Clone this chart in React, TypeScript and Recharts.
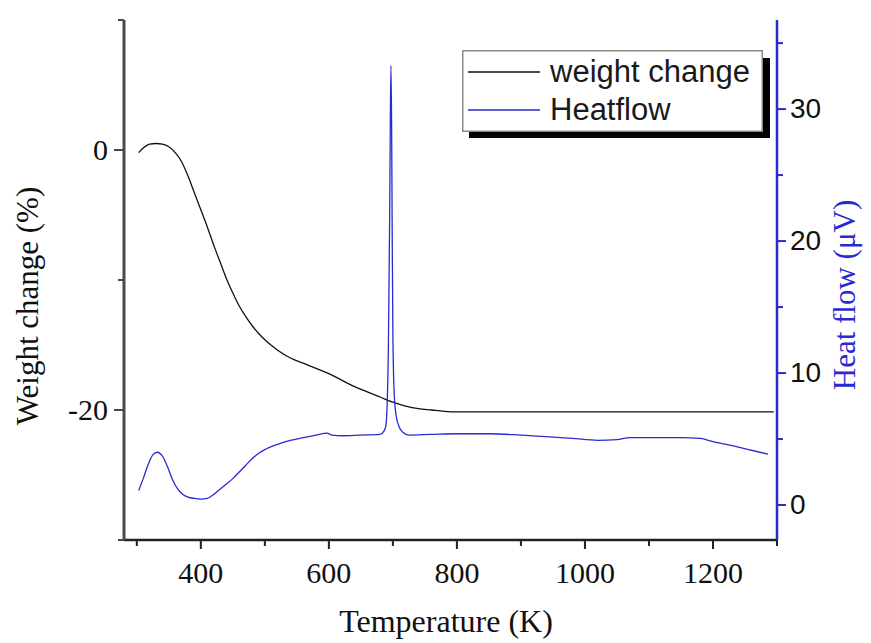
import React from 'react';
import { LineChart, Line, XAxis, YAxis, Legend, Label } from 'recharts';

// Weight change (%) vs temperature (K)
const weightT = [303, 310, 320, 330, 340, 350, 360, 370, 380, 390, 400, 410, 420, 430, 440, 450, 460, 470, 480, 490, 500, 520, 540, 560, 580, 600, 620, 640, 660, 680, 700, 720, 740, 760, 780, 800, 900, 1000, 1100, 1200, 1295];
const weightV = [-0.2, 0.15, 0.45, 0.5, 0.45, 0.25, -0.2, -0.9, -2.0, -3.3, -4.6, -5.9, -7.3, -8.6, -9.9, -11.0, -12.0, -12.8, -13.5, -14.1, -14.6, -15.4, -16.0, -16.4, -16.8, -17.2, -17.7, -18.2, -18.6, -19.0, -19.4, -19.7, -19.9, -20.0, -20.1, -20.15, -20.15, -20.15, -20.15, -20.15, -20.15];

// Heat flow (µV) vs temperature (K)
const heatT = [303, 310, 318, 325, 332, 340, 348, 356, 364, 372, 380, 390, 400, 410, 420, 430, 440, 450, 460, 470, 480, 490, 500, 520, 540, 560, 580, 597, 605, 620, 650, 680, 686, 689, 691, 693, 695, 696, 697, 698, 699, 700, 702, 705, 710, 716, 725, 760, 800, 850, 900, 950, 980, 1020, 1050, 1070, 1100, 1150, 1180, 1200, 1230, 1260, 1286];
const heatV = [1.1, 2.0, 3.1, 3.8, 4.0, 3.7, 2.9, 1.9, 1.2, 0.8, 0.6, 0.5, 0.45, 0.5, 0.8, 1.2, 1.6, 2.0, 2.5, 3.0, 3.5, 3.9, 4.2, 4.6, 4.9, 5.1, 5.3, 5.45, 5.3, 5.25, 5.3, 5.35, 5.6, 6.0, 7.5, 12, 22, 29, 33.3, 29, 20, 13, 8.5, 6.8, 5.9, 5.5, 5.3, 5.35, 5.4, 5.4, 5.3, 5.15, 5.05, 4.9, 4.95, 5.1, 5.1, 5.1, 5.05, 4.8, 4.5, 4.15, 3.85];

const seriesNames = ['weight change', 'Heatflow'];
const xTicks = [300, 400, 500, 600, 700, 800, 900, 1000, 1100, 1200, 1300];
const xMajor = [400, 600, 800, 1000, 1200];
const leftTicks = [-30, -20, -10, 0, 10];
const leftMajor = [-20, 0];
const rightTicks = [0, 5, 10, 15, 20, 25, 30, 35];
const rightMajor = [0, 10, 20, 30];

const weightData = weightT.map((t, i) => ({ T: t, w: weightV[i] }));
const heatData = heatT.map((t, i) => ({ T: t, h: heatV[i] }));

const SERIF = '"Liberation Serif", "Times New Roman", serif';
const SANS = '"Liberation Sans", Arial, sans-serif';
const AXIS_GRAY = '#4a4a4a';
const BLUE = '#2a2ad2';

const BottomTick = (p: any) => {
  const { x, y, payload } = p;
  const major = xMajor.includes(payload.value);
  return (
    <g>
      <line x1={x} x2={x} y1={y} y2={y + (major ? 9 : 6)} stroke="#222" strokeWidth={2} />
      {major && (
        <text x={x} y={y + 43} textAnchor="middle" fontFamily={SERIF} fontSize={30} fill="#111">
          {payload.value}
        </text>
      )}
    </g>
  );
};

const TopTick = (p: any) => {
  const { x, y, payload } = p;
  const major = xMajor.includes(payload.value);
  return <line x1={x} x2={x} y1={y} y2={y + (major ? 10 : 6)} stroke={AXIS_GRAY} strokeWidth={2} />;
};

const LeftTick = (p: any) => {
  const { x, y, payload } = p;
  const major = leftMajor.includes(payload.value);
  return (
    <g>
      <line x1={x} x2={x - (major ? 10 : 6)} y1={y} y2={y} stroke={AXIS_GRAY} strokeWidth={2} />
      {major && (
        <text x={x - 16} y={y + 10} textAnchor="end" fontFamily={SERIF} fontSize={30} fill="#111">
          {payload.value}
        </text>
      )}
    </g>
  );
};

const RightTick = (p: any) => {
  const { x, y, payload } = p;
  const major = rightMajor.includes(payload.value);
  return (
    <g>
      <line x1={x} x2={x + (major ? 9 : 6)} y1={y} y2={y} stroke={BLUE} strokeWidth={2} />
      {major && (
        <text x={x + 13} y={y + 9} textAnchor="start" fontFamily={SANS} fontSize={28} fill="#111">
          {payload.value}
        </text>
      )}
    </g>
  );
};

const renderLegend = (props: any) => {
  const payload = [...(props.payload || [])].sort(
    (a: any, b: any) => seriesNames.indexOf(a.value) - seriesNames.indexOf(b.value)
  );
  return (
    <svg width={312} height={92} style={{ display: 'block' }}>
      <rect x={7} y={81} width={301} height={7} fill="#000" />
      <rect x={300} y={8} width={8} height={80} fill="#000" />
      <rect x={0.75} y={0.75} width={299.5} height={80.5} fill="#fff" stroke="#8a8a8a" strokeWidth={1.5} />
      {payload.map((e: any, i: number) => (
        <g key={i}>
          <line x1={6} x2={78} y1={22 + i * 38} y2={22 + i * 38} stroke={e.color} strokeWidth={1.3} />
          <text x={88} y={32 + i * 38} fontFamily={SANS} fontSize={31} fill="#1a1a1a">
            {e.value}
          </text>
        </g>
      ))}
    </svg>
  );
};

export default function App() {
  return (
    <div style={{ position: 'absolute', left: 0, top: 0, width: 871, height: 643, background: '#fff' }}>
      <LineChart width={871} height={643} margin={{ top: 20, right: 34, bottom: 52, left: 64 }}>
        <XAxis
          xAxisId="bottom"
          dataKey="T"
          type="number"
          domain={[280, 1300]}
          ticks={xTicks}
          interval={0}
          height={51}
          tickSize={0}
          tickMargin={0}
          tick={<BottomTick />}
          axisLine={{ stroke: '#222', strokeWidth: 2.5 }}
          tickLine={false}
        >
          <Label
            content={() => (
              <text x={446} y={632} textAnchor="middle" fontFamily={SERIF} fontSize={32} fill="#111">
                Temperature (K)
              </text>
            )}
          />
        </XAxis>
        <XAxis
          xAxisId="top"
          orientation="top"
          dataKey="T"
          type="number"
          domain={[280, 1300]}
          ticks={xTicks}
          interval={0}
          height={0}
          tickSize={0}
          tickMargin={0}
          tick={<TopTick />}
          axisLine={{ stroke: AXIS_GRAY, strokeWidth: 2.5 }}
          tickLine={false}
        />
        <YAxis
          yAxisId="left"
          type="number"
          domain={[-30, 10]}
          ticks={leftTicks}
          interval={0}
          width={60}
          tickSize={0}
          tickMargin={0}
          tick={<LeftTick />}
          axisLine={{ stroke: AXIS_GRAY, strokeWidth: 3 }}
          tickLine={false}
        >
          <Label
            content={() => (
              <text
                x={38}
                y={306}
                textAnchor="middle"
                fontFamily={SERIF}
                fontSize={31}
                fill="#111"
                transform="rotate(-90, 38, 306)"
              >
                Weight change (%)
              </text>
            )}
          />
        </YAxis>
        <YAxis
          yAxisId="right"
          orientation="right"
          type="number"
          domain={[-2.65, 36.75]}
          ticks={rightTicks}
          interval={0}
          width={60}
          tickSize={0}
          tickMargin={0}
          tick={<RightTick />}
          axisLine={{ stroke: BLUE, strokeWidth: 2.5 }}
          tickLine={false}
        >
          <Label
            content={() => (
              <text
                x={855}
                y={295}
                textAnchor="middle"
                fontFamily={SERIF}
                fontSize={31}
                fill={BLUE}
                transform="rotate(-90, 855, 295)"
              >
                Heat flow (μV)
              </text>
            )}
          />
        </YAxis>
        <Legend
          layout="vertical"
          align="center"
          verticalAlign="middle"
          content={renderLegend}
          wrapperStyle={{ left: 462, top: 50, width: 312, height: 92 }}
        />
        <Line
          data={weightData}
          dataKey="w"
          name="weight change"
          xAxisId="bottom"
          yAxisId="left"
          type="monotone"
          stroke="#111"
          strokeWidth={1.3}
          dot={false}
          isAnimationActive={false}
        />
        <Line
          data={heatData}
          dataKey="h"
          name="Heatflow"
          xAxisId="bottom"
          yAxisId="right"
          type="monotone"
          stroke={BLUE}
          strokeWidth={1.3}
          dot={false}
          isAnimationActive={false}
        />
      </LineChart>
    </div>
  );
}
